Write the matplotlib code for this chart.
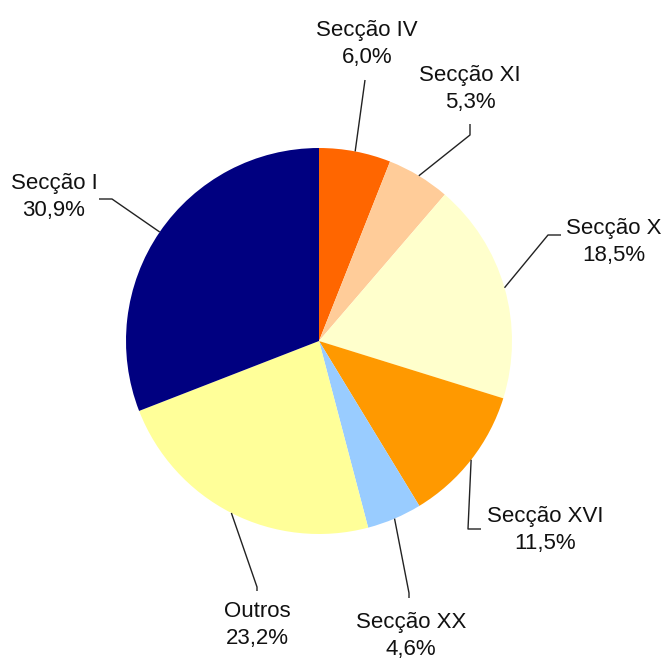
import numpy as np
import matplotlib
matplotlib.use("Agg")
import matplotlib.pyplot as plt

labels = ["Secção IV", "Secção XI", "Secção X", "Secção XVI", "Secção XX", "Outros", "Secção I"]
values = [6.0, 5.3, 18.5, 11.5, 4.6, 23.2, 30.9]
pct_text = ["6,0%", "5,3%", "18,5%", "11,5%", "4,6%", "23,2%", "30,9%"]
colors = ["#FF6600", "#FFCC99", "#FFFFCC", "#FF9900", "#99CCFF", "#FFFF99", "#000080"]

W, H = 662, 660
fig = plt.figure(figsize=(W / 100, H / 100), dpi=100)
ax = fig.add_axes([0, 0, 1, 1])

cx, cy, R = 319, 341, 193  # image coords
def Y(y):
    return H - y

wedges, _ = ax.pie(values, colors=colors, startangle=90, counterclock=False,
                   center=(cx, Y(cy)), radius=R, frame=True,
                   wedgeprops=dict(linewidth=0, antialiased=True))

# label block centers and leader path (image coords) after anchor
label_pos = [(367, 44), (470, 89), (614, 242), (545, 530), (411, 636), (257, 625), (54, 197)]
leader_path = [
    [(365, 80)],
    [(470, 135), (470, 124)],
    [(548, 235), (561, 235)],
    [(468, 529), (481, 529)],
    [(409, 593), (409, 598)],
    [(257, 587), (257, 591)],
    [(112, 199), (99, 199)],
]

for w, lab, pt, pos, path in zip(wedges, labels, pct_text, label_pos, leader_path):
    mid = np.deg2rad((w.theta1 + w.theta2) / 2)
    ax_x = cx + R * np.cos(mid)
    ax_y = Y(cy) + R * np.sin(mid)
    xs = [ax_x] + [p[0] for p in path]
    ys = [ax_y] + [Y(p[1]) for p in path]
    ax.plot(xs, ys, color="#222222", lw=1.0, solid_capstyle="butt")
    ax.text(pos[0], Y(pos[1]), lab + "\n" + pt, ha="center", va="center",
            fontsize=16, family="Liberation Sans", color="#111111", linespacing=1.4)

ax.set_xlim(0, W)
ax.set_ylim(0, H)
ax.set_aspect("equal")
ax.axis("off")
fig.savefig("out.png", dpi=100)
